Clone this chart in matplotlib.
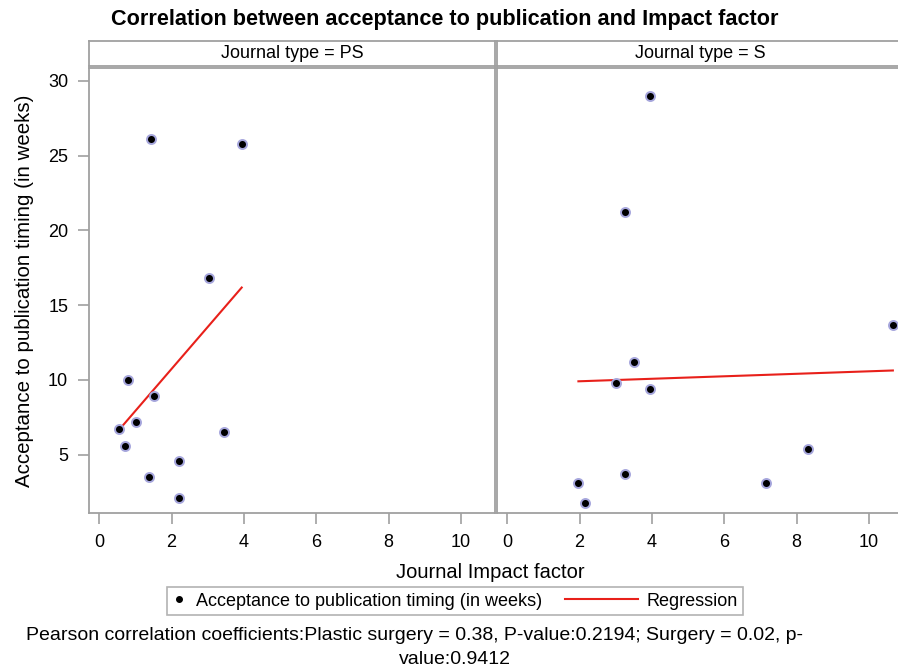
import numpy as np
import matplotlib
matplotlib.use("Agg")
from matplotlib import pyplot as plt
from matplotlib.lines import Line2D
from matplotlib.legend_handler import HandlerBase

plt.rcParams['font.family'] = ['Liberation Sans', 'DejaVu Sans']

# Plastic surgery journals (PS)
ps_impact = [1.43, 3.94, 3.04, 0.79, 1.52, 1.02, 0.55, 0.71, 3.46, 2.20, 1.38, 2.20]
ps_weeks = [26.1, 25.8, 16.8, 10.0, 8.9, 7.2, 6.7, 5.6, 6.5, 4.6, 3.5, 2.1]

# Surgery journals (S)
s_impact = [3.96, 3.25, 10.66, 3.51, 3.00, 3.94, 8.32, 1.97, 3.25, 7.15, 2.15]
s_weeks = [29.0, 21.2, 13.7, 11.2, 9.8, 9.4, 5.4, 3.1, 3.7, 3.1, 1.8]

panel_titles = ["Journal type = PS", "Journal type = S"]
x_ticks = [0, 2, 4, 6, 8, 10]
y_ticks = [5, 10, 15, 20, 25, 30]

gray = "#a0a0a0"
red = "#e8201a"
W, H = 898, 672
fig = plt.figure(figsize=(W / 100, H / 100), dpi=100)


class LongLineHandler(HandlerBase):
    # regression swatch longer than the (short) handle box, reaching to the left
    def create_artists(self, legend, orig_handle, xdescent, ydescent, width, height, fontsize, trans):
        y = height / 2 - ydescent
        ln = Line2D([width - 4 * fontsize, width], [y, y], color=orig_handle.get_color(),
                    lw=orig_handle.get_linewidth(), transform=trans)
        return [ln]


# panel boxes in pixels: left, right
panels = [(89, 495), (497, 903)]
top, bottom = 68, 513

axes = []
for (x0, x1), xs, ys, title in zip(panels, [ps_impact, s_impact], [ps_weeks, s_weeks], panel_titles):
    ax = fig.add_axes([x0 / W, 1 - bottom / H, (x1 - x0) / W, (bottom - top) / H])
    ax.scatter(xs, ys, s=42, c="black", edgecolors="#a6a6dc", linewidths=1.4, zorder=3)
    # linear regression fit
    slope, intercept = np.polyfit(xs, ys, 1)
    xr = np.array([min(xs), max(xs)])
    ax.plot(xr, slope * xr + intercept, color=red, lw=1.5, zorder=2)
    ax.set_xlim(-0.28, 10.94)
    ax.set_ylim(1.1, 30.85)
    ax.set_xticks(x_ticks)
    ax.set_yticks(y_ticks)
    for sp in ax.spines.values():
        sp.set_color(gray)
        sp.set_linewidth(1.3)
    ax.tick_params(axis="both", colors=gray, labelcolor="black", labelsize=13,
                   length=8, width=1.2, direction="out", pad=7)
    # strip header
    strip = fig.add_axes([x0 / W, 1 - 66 / H, (x1 - x0) / W, 25 / H])
    strip.set_xticks([])
    strip.set_yticks([])
    for sp in strip.spines.values():
        sp.set_color(gray)
        sp.set_linewidth(1.3)
    strip.text(0.5, 0.5, title, ha="center", va="center", fontsize=13,
               transform=strip.transAxes)
    axes.append(ax)

axes[1].tick_params(axis="y", left=False, labelleft=False)
axes[0].set_ylabel("Acceptance to publication timing (in weeks)", fontsize=14.8, labelpad=10)

fig.text(445 / W, 1 - 20 / H, "Correlation between acceptance to publication and Impact factor",
         ha="center", va="center", fontsize=15.6, fontweight="bold")
fig.text(490 / W, 1 - 573 / H, "Journal Impact factor", ha="center", va="center", fontsize=14.5)

dot = Line2D([], [], marker="o", color="black", lw=0, markersize=4)
reg = Line2D([], [], color=red, lw=1.5)
leg = fig.legend([dot, reg], ["Acceptance to publication timing (in weeks)", "Regression"],
                 loc="center", bbox_to_anchor=(455 / W, 1 - 601 / H), ncol=2,
                 fontsize=13, frameon=True, fancybox=False, handlelength=0.8,
                 columnspacing=4.5, borderpad=0.3, handletextpad=0.5,
                 handler_map={reg: LongLineHandler()})
leg.get_frame().set_edgecolor(gray)
leg.get_frame().set_linewidth(1.2)

fig.text(414 / W, 1 - 636 / H,
         "Pearson correlation coefficients:Plastic surgery = 0.38, P-value:0.2194; Surgery = 0.02, p-",
         ha="center", va="center", fontsize=14)
fig.text(455 / W, 1 - 660 / H, "value:0.9412", ha="center", va="center", fontsize=14)

fig.savefig("out.png", dpi=100)
